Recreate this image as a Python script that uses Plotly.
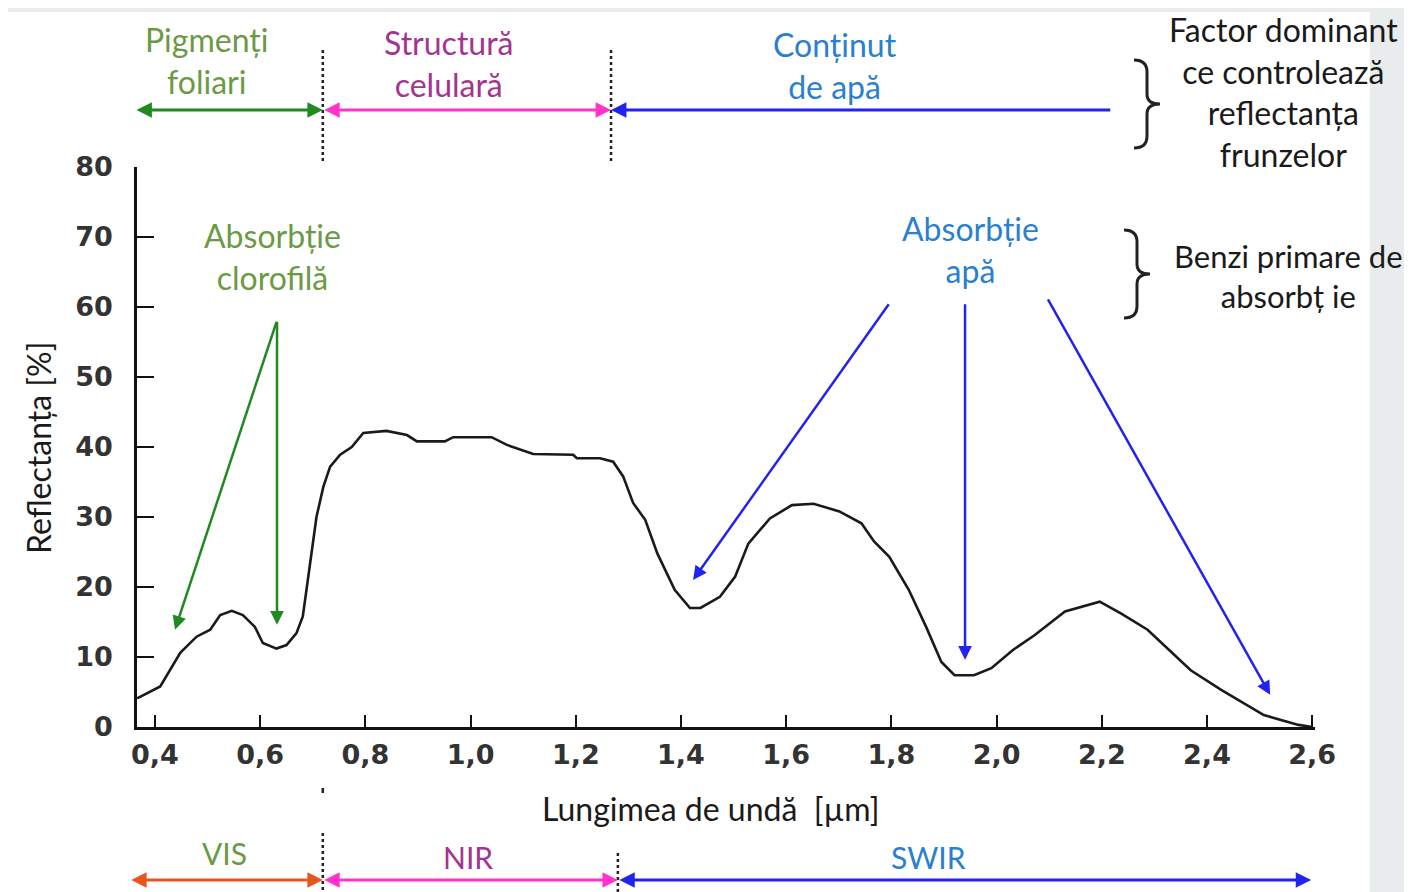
import plotly.graph_objects as go

# ---------------- data ----------------
wavelength = [0.366, 0.41, 0.448, 0.479, 0.505, 0.524, 0.546, 0.567, 0.590, 0.605,
              0.631, 0.650, 0.669, 0.681, 0.688, 0.698, 0.707, 0.720, 0.733, 0.752,
              0.774, 0.796, 0.840, 0.879, 0.898, 0.951, 0.967, 1.040, 1.069, 1.119,
              1.195, 1.202, 1.246, 1.271, 1.290, 1.309, 1.332, 1.355, 1.388, 1.417,
              1.437, 1.474, 1.503, 1.528, 1.569, 1.611, 1.652, 1.701, 1.743, 1.767,
              1.796, 1.833, 1.866, 1.895, 1.920, 1.957, 1.990, 2.031, 2.072, 2.130,
              2.196, 2.237, 2.287, 2.369, 2.427, 2.508, 2.574, 2.600]
reflectance = [4.1, 5.8, 10.6, 12.9, 13.9, 16.0, 16.6, 16.0, 14.3, 12.0,
               11.2, 11.7, 13.4, 15.8, 19.6, 25.3, 30.0, 34.3, 37.2, 38.9,
               40.0, 42.0, 42.3, 41.7, 40.8, 40.8, 41.4, 41.4, 40.3, 39.0,
               38.9, 38.4, 38.4, 37.9, 35.8, 32.0, 29.6, 24.8, 19.6, 17.0,
               17.0, 18.6, 21.5, 26.2, 29.8, 31.7, 31.9, 30.8, 29.1, 26.5,
               24.3, 19.6, 14.3, 9.3, 7.4, 7.4, 8.4, 11.0, 13.1, 16.5,
               17.9, 16.2, 13.9, 8.1, 5.3, 1.7, 0.3, 0.0]

x_tickvals = [0.4, 0.6, 0.8, 1.0, 1.2, 1.4, 1.6, 1.8, 2.0, 2.2, 2.4, 2.6]
x_ticktext = ["0,4", "0,6", "0,8", "1,0", "1,2", "1,4", "1,6", "1,8", "2,0", "2,2", "2,4", "2,6"]
y_tickvals = [0, 10, 20, 30, 40, 50, 60, 70, 80]

# top: factor controlling leaf reflectance
top_labels = ["Pigmenți<br>foliari", "Structură<br>celulară", "Conținut<br>de apă"]
top_bounds = [0.362, 0.719, 1.267, 2.219]
top_label_x = [0.497, 0.958, 1.693]
# bottom: spectral domains
bottom_labels = ["VIS", "NIR", "SWIR"]
bottom_bounds = [0.352, 0.719, 1.28, 2.598]
bottom_label_x = [0.533, 0.995, 1.87]

# absorption arrows: (tail x, tail y, head x, head y)
chl_arrows = [(0.632, 58.1, 0.438, 13.9), (0.632, 58.1, 0.632, 14.6)]
water_arrows = [(1.797, 60.6, 1.423, 21.0), (1.940, 60.6, 1.940, 9.6), (2.096, 61.3, 2.520, 4.6)]

# ---------------- layout constants ----------------
OFF = 8                      # page offset of the plot div (body margin)
W, H = 1412 - OFF, 892 - OFF
ML, MT = 137 - OFF, 167 - OFF
PR, PB = 1315 - OFF, 727 - OFF
MR, MB = W - PR, H - PB
PW, PH = PR - ML, PB - MT
X0, X1 = 0.3658, 2.6053

GREEN_T = "#6b9a45"
GREEN_A = "#1f8a1f"
PURPLE_T = "#a3348f"
PINK_A = "#ff33cc"
BLUE_T = "#2a7fd0"
BLUE_A = "#2323f0"
ORANGE_A = "#e8561e"
FONT = "Lato"
TXT = 32


def xp(v):
    return (v - X0) / (X1 - X0)


def pxx(px):
    return (px - OFF - ML) / PW


def pyy(py):
    return (PB - (py - OFF)) / PH


fig = go.Figure()
fig.add_trace(go.Scatter(x=wavelength, y=reflectance, mode="lines",
                         line=dict(color="#1a1a1a", width=2.6), showlegend=False,
                         hoverinfo="skip"))

shapes = []
# white page over gray background
shapes.append(dict(type="rect", xref="paper", yref="paper", layer="below",
                   x0=pxx(7), x1=pxx(1370), y0=pyy(12), y1=pyy(900),
                   fillcolor="white", line=dict(width=0)))

# dotted separators
for v in [top_bounds[1], top_bounds[2]]:
    shapes.append(dict(type="line", xref="paper", yref="paper",
                       x0=xp(v), x1=xp(v), y0=pyy(50), y1=pyy(162),
                       line=dict(color="#222", width=2.5, dash="dot")))
shapes.append(dict(type="line", xref="paper", yref="paper",
                   x0=xp(bottom_bounds[1]), x1=xp(bottom_bounds[1]), y0=pyy(833), y1=pyy(900),
                   line=dict(color="#222", width=2.5, dash="dot")))
shapes.append(dict(type="line", xref="paper", yref="paper",
                   x0=xp(bottom_bounds[1]), x1=xp(bottom_bounds[1]), y0=pyy(788), y1=pyy(793),
                   line=dict(color="#222", width=2.5)))
shapes.append(dict(type="line", xref="paper", yref="paper",
                   x0=xp(bottom_bounds[2]), x1=xp(bottom_bounds[2]), y0=pyy(853), y1=pyy(900),
                   line=dict(color="#222", width=2.5, dash="dot")))


def brace(xl, xt, yt, yb):
    ym = (yt + yb) / 2
    xm = xl + (xt - xl) * 0.5
    pts = [f"M {pxx(xl)},{pyy(yt)}",
           f"Q {pxx(xm)},{pyy(yt)} {pxx(xm)},{pyy(yt + 12)}",
           f"L {pxx(xm)},{pyy(ym - 10)}",
           f"Q {pxx(xm)},{pyy(ym)} {pxx(xt)},{pyy(ym)}",
           f"Q {pxx(xm)},{pyy(ym)} {pxx(xm)},{pyy(ym + 10)}",
           f"L {pxx(xm)},{pyy(yb - 12)}",
           f"Q {pxx(xm)},{pyy(yb)} {pxx(xl)},{pyy(yb)}"]
    return dict(type="path", xref="paper", yref="paper", path=" ".join(pts),
                line=dict(color="#222", width=3))


shapes.append(brace(1134, 1160, 60, 148))
shapes.append(brace(1124, 1150, 230, 318))

ann = []


def hline_arrow(a, b, py, color, both=True):
    if both:
        ann.append(dict(xref="paper", yref="paper", x=xp(b), y=pyy(py), text="",
                        showarrow=True, axref="pixel", ayref="pixel",
                        ax=-(xp(b) - xp(a)) * PW, ay=0, arrowside="end+start",
                        arrowhead=2, arrowsize=1.1, arrowwidth=2.8, arrowcolor=color))
    else:
        ann.append(dict(xref="paper", yref="paper", x=xp(a), y=pyy(py), text="",
                        showarrow=True, axref="pixel", ayref="pixel",
                        ax=(xp(b) - xp(a)) * PW, ay=0, arrowside="end",
                        arrowhead=2, arrowsize=1.1, arrowwidth=2.8, arrowcolor=color))


top_colors = [GREEN_A, PINK_A, BLUE_A]
for i in range(3):
    hline_arrow(top_bounds[i], top_bounds[i + 1], 110, top_colors[i], both=(i < 2))
bottom_colors = [ORANGE_A, PINK_A, BLUE_A]
for i in range(3):
    hline_arrow(bottom_bounds[i], bottom_bounds[i + 1], 880, bottom_colors[i])

top_text_colors = [GREEN_T, PURPLE_T, BLUE_T]
top_text_y = [60, 63, 66]
for i in range(3):
    ann.append(dict(xref="paper", yref="paper", x=xp(top_label_x[i]), y=pyy(top_text_y[i]),
                    text=top_labels[i], showarrow=False, align="center",
                    xanchor="center", yanchor="middle",
                    font=dict(family=FONT, size=TXT, color=top_text_colors[i])))
bottom_text_y = [853, 857, 857]
for i in range(3):
    ann.append(dict(xref="paper", yref="paper", x=xp(bottom_label_x[i]), y=pyy(bottom_text_y[i]),
                    text=bottom_labels[i], showarrow=False,
                    xanchor="center", yanchor="middle",
                    font=dict(family=FONT, size=30, color=top_text_colors[i])))

ann.append(dict(xref="paper", yref="paper", x=pxx(1283), y=pyy(92),
                text="Factor dominant<br>ce controlează<br>reflectanța<br>frunzelor",
                showarrow=False, align="center", xanchor="center", yanchor="middle",
                font=dict(family=FONT, size=TXT, color="#1a1a1a")))
ann.append(dict(xref="paper", yref="paper", x=pxx(1288), y=pyy(276),
                text="Benzi primare de<br>absorbț ie",
                showarrow=False, align="center", xanchor="center", yanchor="middle",
                font=dict(family=FONT, size=31, color="#1a1a1a")))
ann.append(dict(xref="paper", yref="paper", x=pxx(272), y=pyy(256),
                text="Absorbție<br>clorofilă", showarrow=False, align="center",
                xanchor="center", yanchor="middle",
                font=dict(family=FONT, size=TXT, color=GREEN_T)))
ann.append(dict(xref="paper", yref="paper", x=pxx(970), y=pyy(249),
                text="Absorbție<br>apă", showarrow=False, align="center",
                xanchor="center", yanchor="middle",
                font=dict(family=FONT, size=TXT, color=BLUE_T)))

for (tx, ty, hx, hy) in chl_arrows:
    ann.append(dict(xref="x", yref="y", axref="x", ayref="y", x=hx, y=hy, ax=tx, ay=ty,
                    text="", showarrow=True, arrowhead=2, arrowsize=1.1, arrowwidth=2.5,
                    arrowcolor=GREEN_A))
for (tx, ty, hx, hy) in water_arrows:
    ann.append(dict(xref="x", yref="y", axref="x", ayref="y", x=hx, y=hy, ax=tx, ay=ty,
                    text="", showarrow=True, arrowhead=2, arrowsize=1.1, arrowwidth=2.5,
                    arrowcolor=BLUE_A))

# axis titles
ann.append(dict(xref="paper", yref="paper", x=pxx(38), y=pyy(448), text="Reflectanța [%]",
                showarrow=False, textangle=-90, xanchor="center", yanchor="middle",
                font=dict(family=FONT, size=TXT, color="#1a1a1a")))
ann.append(dict(xref="paper", yref="paper", x=pxx(711), y=pyy(808), text="Lungimea de undă  [µm]",
                showarrow=False, xanchor="center", yanchor="middle",
                font=dict(family=FONT, size=TXT, color="#1a1a1a")))

tick_font = dict(family="DejaVu Sans", size=27, color="#333", weight="bold")
fig.update_layout(
    width=W, height=H,
    margin=dict(l=ML, r=MR, t=MT, b=MB, pad=0),
    paper_bgcolor="#e9ecec", plot_bgcolor="rgba(0,0,0,0)",
    shapes=shapes, annotations=ann, showlegend=False,
    xaxis=dict(range=[X0, X1], tickvals=x_tickvals, ticktext=x_ticktext,
               ticks="inside", ticklen=12, tickwidth=2, tickcolor="#111",
               showline=True, linecolor="#111", linewidth=2.5, showgrid=False,
               zeroline=False, ticklabelstandoff=2, tickfont=tick_font),
    yaxis=dict(range=[0, 80], tickvals=y_tickvals,
               ticks="inside", ticklen=17, tickwidth=2, tickcolor="#111",
               showline=True, linecolor="#111", linewidth=2.5, showgrid=False,
               zeroline=False, ticklabelstandoff=16, tickfont=tick_font),
)

fig.write_html("out.html")
